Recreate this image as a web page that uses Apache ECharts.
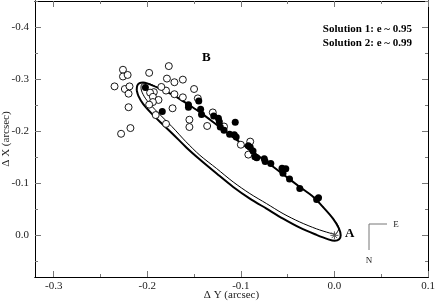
<!DOCTYPE html>
<html><head><meta charset="utf-8">
<script src="https://cdn.jsdelivr.net/npm/echarts@6/dist/echarts.min.js"></script>
<style>html,body{margin:0;padding:0;background:#fff}#c{width:436px;height:303px}</style>
</head><body><div id="c"></div>
<script>
// ---- data (arcsec) ----
const xMajor = [-0.3, -0.2, -0.1, 0.0, 0.1];
const xMinor = [-0.25, -0.15, -0.05, 0.05];
const yMajor = [-0.4, -0.3, -0.2, -0.1, 0.0];
const yMinor = [-0.45, -0.35, -0.25, -0.15, -0.05, 0.05];

// open circles [dY, dX]
const openPts = [
  [-0.235,-0.286],[-0.226,-0.318],[-0.226,-0.305],[-0.221,-0.308],[-0.224,-0.281],
  [-0.219,-0.286],[-0.220,-0.272],[-0.220,-0.246],[-0.218,-0.206],[-0.228,-0.195],
  [-0.198,-0.312],[-0.177,-0.325],[-0.179,-0.301],[-0.162,-0.299],[-0.171,-0.294],
  [-0.150,-0.281],[-0.162,-0.265],[-0.171,-0.271],[-0.180,-0.278],[-0.185,-0.285],
  [-0.193,-0.275],[-0.197,-0.274],[-0.194,-0.266],[-0.188,-0.260],[-0.194,-0.256],
  [-0.198,-0.251],[-0.191,-0.231],[-0.180,-0.214],[-0.173,-0.244],[-0.155,-0.222],
  [-0.155,-0.208],[-0.146,-0.263],[-0.136,-0.210],[-0.130,-0.236],[-0.118,-0.209],
  [-0.100,-0.174],[-0.092,-0.155],[-0.090,-0.180]
];
// filled dots [dY, dX]
const filledPts = [
  [-0.202,-0.284],[-0.184,-0.238],[-0.156,-0.251],[-0.156,-0.246],[-0.145,-0.258],
  [-0.143,-0.242],[-0.142,-0.232],[-0.129,-0.229],[-0.124,-0.225],[-0.123,-0.218],
  [-0.122,-0.208],[-0.118,-0.202],[-0.112,-0.194],[-0.107,-0.193],[-0.106,-0.217],
  [-0.105,-0.189],[-0.092,-0.172],[-0.090,-0.169],[-0.087,-0.162],[-0.085,-0.151],
  [-0.083,-0.149],[-0.075,-0.147],[-0.074,-0.142],[-0.068,-0.138],[-0.056,-0.129],
  [-0.052,-0.128],[-0.055,-0.119],[-0.048,-0.108],[-0.037,-0.090],[-0.019,-0.069],
  [-0.017,-0.072]
];
// Solution 1 orbit (thick), traced
const orbit1 = [
  [-0.2113,-0.2788],[-0.2107,-0.2875],[-0.2083,-0.2923],[-0.2046,-0.2937],[-0.1993,-0.2913],
  [-0.1883,-0.2831],[-0.1800,-0.2760],[-0.1704,-0.2673],[-0.1619,-0.2577],[-0.1526,-0.2471],
  [-0.1438,-0.2365],[-0.1259,-0.2125],[-0.1082,-0.1885],[-0.0904,-0.1644],[-0.0726,-0.1413],
  [-0.0549,-0.1173],[-0.0370,-0.0929],[-0.0228,-0.0740],[-0.0122,-0.0544],[-0.0015,-0.0321],
  [0.0049,-0.0129],[0.0067,0.0000],[0.0051,0.0077],[0.0003,0.0106],[-0.0072,0.0073],
  [-0.0192,-0.0010],[-0.0370,-0.0148],[-0.0549,-0.0321],[-0.0726,-0.0513],[-0.0904,-0.0706],
  [-0.1082,-0.0929],[-0.1259,-0.1187],[-0.1438,-0.1456],[-0.1580,-0.1683],[-0.1736,-0.1962],
  [-0.1846,-0.2148],[-0.1953,-0.2337],[-0.2043,-0.2519],[-0.2094,-0.2673],[-0.2113,-0.2788]
];
// Solution 2 orbit (thin), traced
const orbit2 = [
  [0.0014,-0.0019],[-0.0050,-0.0044],[-0.0192,-0.0125],[-0.0370,-0.0256],[-0.0549,-0.0417],
  [-0.0726,-0.0610],[-0.0904,-0.0802],[-0.1082,-0.1025],[-0.1259,-0.1283],[-0.1438,-0.1538],
  [-0.1587,-0.1798],[-0.1736,-0.2087],[-0.1864,-0.2317],[-0.1971,-0.2519],[-0.2035,-0.2673],
  [-0.2067,-0.2827],[-0.2057,-0.2904],[-0.1993,-0.2913],[-0.1883,-0.2831],[-0.1800,-0.2760],
  [-0.1704,-0.2673],[-0.1619,-0.2577],[-0.1526,-0.2471],[-0.1438,-0.2365],[-0.1259,-0.2125],
  [-0.1082,-0.1885],[-0.0904,-0.1644],[-0.0726,-0.1413],[-0.0549,-0.1173],[-0.0370,-0.0929],
  [-0.0228,-0.0740],[-0.0122,-0.0544],[-0.0015,-0.0321],[0.0049,-0.0129],[0.0035,-0.0077],
  [0.0014,-0.0019]
];
const primary = [[0.0, 0.0]];

const serif = '"Liberation Serif","DejaVu Serif",serif';
const xMin = -0.32, xMax = 0.1, yMin = -0.45, yMax = 0.08;

function xAx(pos, ticks, len, labels, extra) {
  return Object.assign({
    type: 'value', min: xMin, max: xMax, position: pos,
    axisLine: { show: true, onZero: false, lineStyle: { color: '#000', width: 1 } },
    axisTick: { show: true, inside: true, length: len, customValues: ticks, lineStyle: { color: '#777' } },
    axisLabel: labels ? { show: true, customValues: labels, formatter: v => v.toFixed(1), margin: 4,
      fontFamily: serif, fontSize: 11, color: '#222' } : { show: false },
    splitLine: { show: false }
  }, extra || {});
}
function yAx(pos, ticks, len, labels, extra) {
  return Object.assign({
    type: 'value', min: yMin, max: yMax, inverse: true, position: pos,
    axisLine: { show: true, onZero: false, lineStyle: { color: '#000', width: 1 } },
    axisTick: { show: true, inside: true, length: len, customValues: ticks, lineStyle: { color: '#777' } },
    axisLabel: labels ? { show: true, customValues: labels, formatter: v => v.toFixed(1), margin: 6,
      fontFamily: serif, fontSize: 11, color: '#222' } : { show: false },
    splitLine: { show: false }
  }, extra || {});
}

const chart = echarts.init(document.getElementById('c'), null, { renderer: 'canvas' });
chart.setOption({
  animation: false,
  backgroundColor: '#fff',
  grid: { left: 35, right: 8, top: 1, bottom: 26, containLabel: false, outerBoundsMode: 'none' },
  xAxis: [
    xAx('bottom', xMajor, 6, xMajor, { name: 'Δ Y (arcsec)', nameLocation: 'middle', nameGap: 13,
      nameMoveOverlap: false,
      nameTextStyle: { fontFamily: serif, fontSize: 11, color: '#222' } }),
    xAx('bottom', xMinor, 3, null),
    xAx('top', xMajor, 6, null),
    xAx('top', xMinor, 3, null)
  ],
  yAxis: [
    yAx('left', yMajor, 6, yMajor, { name: 'Δ X (arcsec)', nameLocation: 'middle', nameGap: 23,
      nameMoveOverlap: false,
      nameTextStyle: { fontFamily: serif, fontSize: 11, color: '#222' } }),
    yAx('left', yMinor, 3, null),
    yAx('right', yMajor, 6, null),
    yAx('right', yMinor, 3, null)
  ],
  series: [
    { type: 'line', data: orbit2, symbol: 'none', smooth: 0.3, lineStyle: { color: '#000', width: 1 }, z: 2 },
    { type: 'line', data: orbit1, symbol: 'none', smooth: 0.3, lineStyle: { color: '#000', width: 2 }, z: 3 },
    { type: 'scatter', data: openPts, symbol: 'circle', symbolSize: 7,
      itemStyle: { color: '#fff', borderColor: '#000', borderWidth: 0.9, opacity: 1 }, z: 4 },
    { type: 'scatter', data: filledPts, symbol: 'circle', symbolSize: 7,
      itemStyle: { color: '#000', opacity: 1 }, z: 5 },
    { type: 'scatter', data: primary, symbol: 'path://M0,-5L0,5M-5,0L5,0M-3.5,-3.5L3.5,3.5M-3.5,3.5L3.5,-3.5',
      symbolSize: 8, itemStyle: { color: 'none', borderColor: '#555', borderWidth: 1, opacity: 1 }, z: 6 }
  ],
  graphic: [
    { type: 'text', x: 202, y: 58, style: { text: 'B', font: 'bold 13px ' + serif, fill: '#000', verticalAlign: 'middle' } },
    { type: 'text', x: 345, y: 234, style: { text: 'A', font: 'bold 13px ' + serif, fill: '#000', verticalAlign: 'middle' } },
    { type: 'text', x: 412, y: 29, style: { text: 'Solution 1: e ~ 0.95', font: 'bold 11px ' + serif, fill: '#000', align: 'right', verticalAlign: 'middle' } },
    { type: 'text', x: 412, y: 43, style: { text: 'Solution 2: e ~ 0.99', font: 'bold 11px ' + serif, fill: '#000', align: 'right', verticalAlign: 'middle' } },
    { type: 'polyline', shape: { points: [[387, 224], [369, 224], [369, 250]] }, style: { stroke: '#777', lineWidth: 1, fill: null } },
    { type: 'text', x: 396, y: 225, style: { text: 'E', font: '9px ' + serif, fill: '#222', align: 'center', verticalAlign: 'middle' } },
    { type: 'text', x: 369, y: 261, style: { text: 'N', font: '9px ' + serif, fill: '#222', align: 'center', verticalAlign: 'middle' } }
  ]
});
</script></body></html>
